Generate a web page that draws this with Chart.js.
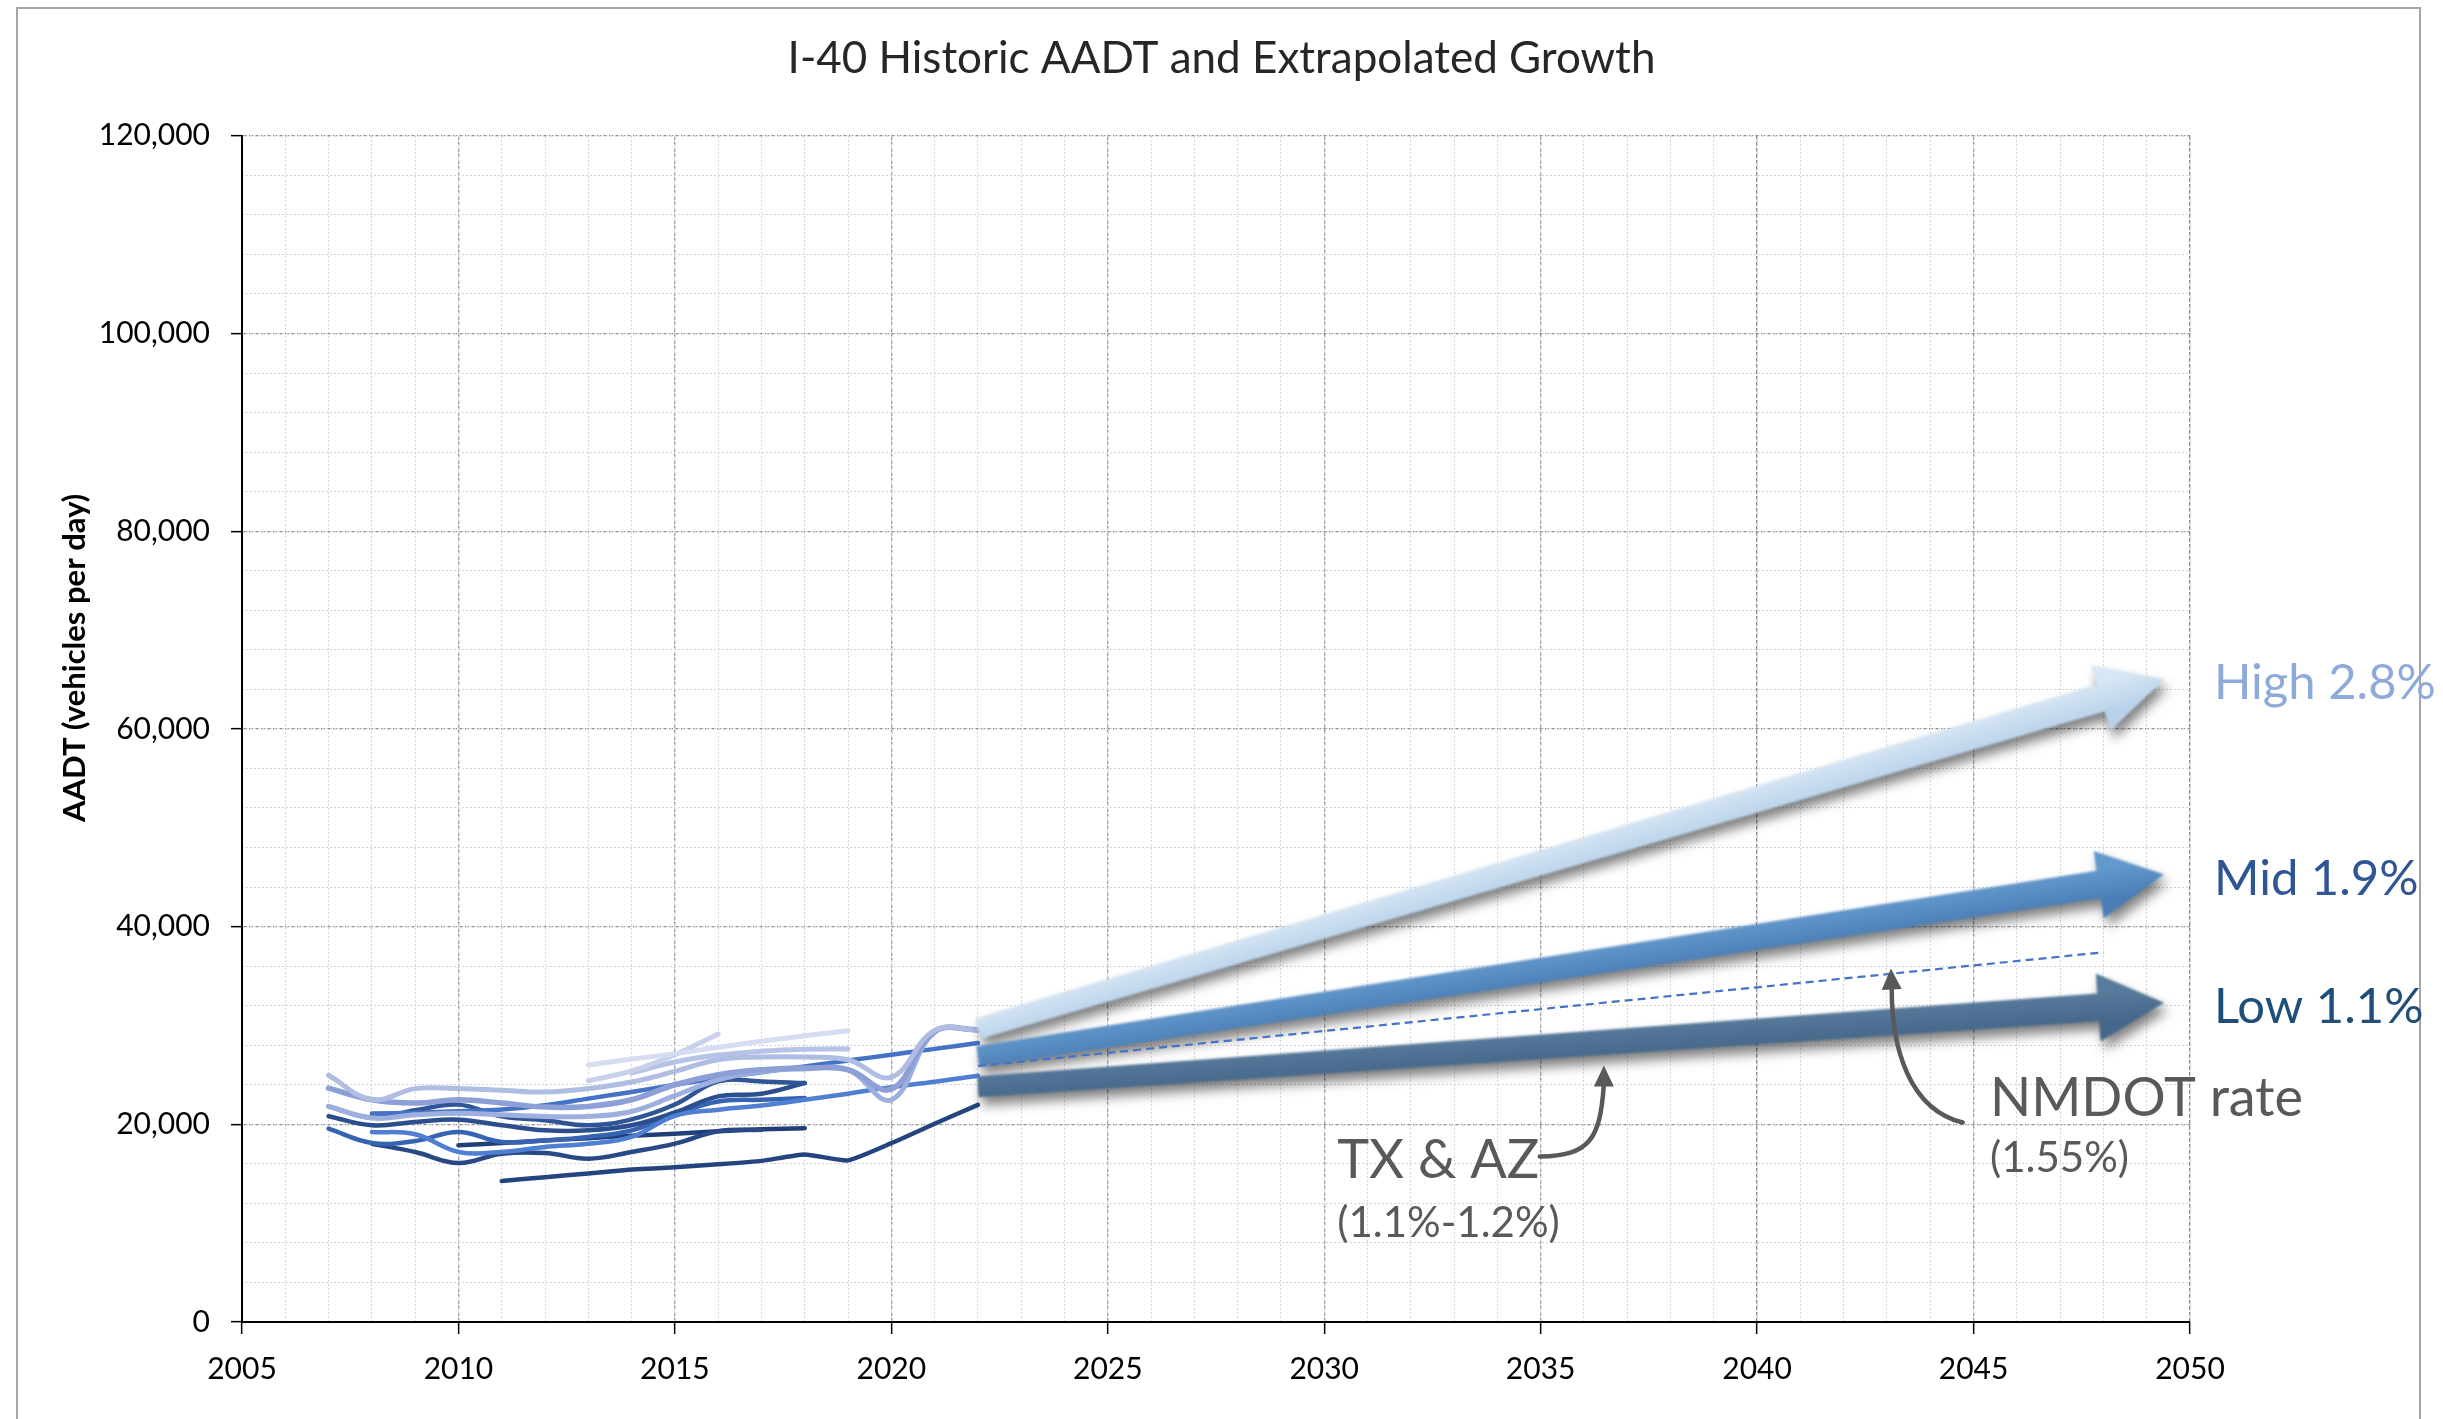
<!DOCTYPE html>
<html>
<head>
<meta charset="utf-8">
<script src="https://cdn.jsdelivr.net/npm/chart.js@4.4.1/dist/chart.umd.min.js"></script>
<style>
html,body{margin:0;padding:0;background:#fff;overflow:hidden}
canvas{display:block}
</style>
</head>
<body>
<canvas id="c" width="2443" height="1419"></canvas>
<script>
// ---------------- DATA ----------------
const chartTitle = 'I-40 Historic AADT and Extrapolated Growth';
const yAxisTitle = 'AADT (vehicles per day)';
const xTickLabels = [2005, 2010, 2015, 2020, 2025, 2030, 2035, 2040, 2045, 2050];
const yTickLabels = [0, 20000, 40000, 60000, 80000, 100000, 120000];

// historic count stations (AADT by year)
const years0722 = [2007,2008,2009,2010,2011,2012,2013,2014,2015,2016,2017,2018,2019,2020,2021,2022];
const years0822 = [2008,2009,2010,2011,2012,2013,2014,2015,2016,2017,2018,2019,2020,2021,2022];
const years0718 = [2007,2008,2009,2010,2011,2012,2013,2014,2015,2016,2017,2018];
const years0817 = [2008,2009,2010,2011,2012,2013,2014,2015,2016,2017];
const years1018 = [2010,2011,2012,2013,2014,2015,2016,2017,2018];
const years1122 = [2011,2012,2013,2014,2015,2016,2017,2018,2019,2020,2021,2022];
const years1319 = [2013,2014,2015,2016,2017,2018,2019];
const years1316 = [2013,2014,2015,2016];
const years1419 = [2014,2015,2016,2017,2018,2019];

const stnA = [24960,22500,23610,23610,23440,23270,23610,24280,25350,26530,26800,26800,26530,24780,29500,29570];
const stnB = [23660,22480,22150,22480,22150,21740,21810,22480,24000,25020,25520,25690,25520,23560,29400,29570];
const stnC = [21810,20630,20960,21130,20960,20800,20800,21300,22900,24500,25350,25600,25520,22480,29300,29570];
const stnD = [21080,21180,21320,21490,21920,22600,23270,24000,24680,25270,25860,26450,27040,27630,28220];
const stnE = [19220,18990,17200,17200,17700,18040,18720,20860,21470,21900,22480,23100,23760,24300,24910];
const stnF = [21820,20680,21420,21990,20810,20400,19900,20500,22000,24340,24340,24170];
const stnG = [20810,19900,20240,20470,19900,19390,19390,19900,21200,22820,23090,24170];
const stnH = [19560,18110,18300,19220,18210,18380,18720,19390,21000,22310,22480,22650];
const stnI = [18040,17200,16080,17030,17100,16520,17200,18040,19300,19440];
const stnJ = [17870,18100,18350,18600,18850,19050,19300,19500,19610];
const stnK = [14260,14650,15030,15420,15650,15950,16300,16950,16350,18090,20050,21970];
const stnL = [26000,26600,27150,27800,28400,28950,29470];
const stnM = [24400,25400,27040,29130];
const stnN = [25200,26300,27000,27400,27600,27620];

// NMDOT rate (1.55%) extrapolation
const nmdotYears = [2022, 2048];
const nmdotValues = [25900, 37400];

// growth scenario arrows
const growthLabels = ['High 2.8%', 'Mid 1.9%', 'Low 1.1%'];
const growthYears = [2022, 2049.4];
const growthStart = [29670, 26840, 23800];
const growthEnd = [65000, 45270, 32300];

// annotations (year, AADT)
const txText = ['TX & AZ', '(1.1%-1.2%)'];
const txTextPos = [[2030.3, 14610], [2030.3, 8600]];
const txArrowPath = [[2034.98, 16740], [2036.14, 16840], [2036.37, 18460], [2036.46, 24020]];
const txArrowTip = [2036.46, 25940];
const nmText = ['NMDOT rate', '(1.55%)'];
const nmTextPos = [[2045.38, 20890], [2045.38, 15130]];
const nmArrowPath = [[2044.75, 20180], [2043.53, 21490], [2043.11, 27560], [2043.11, 33630]];
const nmArrowTip = [2043.09, 35760];

// ---------------- BUILD ----------------
const pts = (xs, ys) => xs.map((x, i) => ({x: x, y: ys[i]}));
function station(xs, ys, color, width, tension) {
  return {
    data: pts(xs, ys), borderColor: color, borderWidth: width,
    pointRadius: 0, pointHoverRadius: 0, fill: false,
    tension: tension, borderCapStyle: 'round', borderJoinStyle: 'round'
  };
}

const datasets = [
  {data: pts(nmdotYears, nmdotValues), borderColor: '#4472c4', borderWidth: 2.2,
   borderDash: [8, 5], pointRadius: 0, fill: false, tension: 0},
  station(years0722, stnA, '#b0bde3', 5, 0.4),
  station(years0722, stnB, '#8c9fd6', 5.5, 0.4),
  station(years0722, stnC, '#9dafde', 5, 0.4),
  station(years1319, stnL, '#d6dcf1', 5, 0.4),
  station(years1316, stnM, '#c8d0ec', 5, 0.4),
  station(years1419, stnN, '#b6c2e6', 5, 0.4),
  station(years0822, stnD, '#4472c4', 4.5, 0.4),
  station(years0822, stnE, '#4f7fd3', 4.5, 0.4),
  station(years0718, stnF, '#2f5597', 4.5, 0.4),
  station(years0718, stnG, '#2b4e8f', 4.5, 0.4),
  station(years0718, stnH, '#3763b3', 4.5, 0.4),
  station(years0817, stnI, '#284886', 4.5, 0.4),
  station(years1018, stnJ, '#203f78', 4.5, 0.3),
  station(years1122, stnK, '#24447e', 4.5, 0.15)
];

const arrowTop = ['#d7e7f5', '#6499cd', '#587b9d'];
const arrowBottom = ['#b9d2ea', '#4a7eb6', '#44678a'];

function drawGrowthArrow(ctx, x0, y0, x1, y1, cTop, cBot) {
  const dx = x1 - x0, dy = y1 - y0, L = Math.hypot(dx, dy);
  const ux = dx / L, uy = dy / L, nx = -uy, ny = ux;
  const headLen = 66, headHalf = 34, wTail = 21, wHead = 28;
  const bx = x1 - ux * headLen, by = y1 - uy * headLen;
  const P = [
    [x0 - nx * wTail / 2, y0 - ny * wTail / 2],
    [bx - nx * wHead / 2, by - ny * wHead / 2],
    [bx - nx * headHalf, by - ny * headHalf],
    [x1, y1],
    [bx + nx * headHalf, by + ny * headHalf],
    [bx + nx * wHead / 2, by + ny * wHead / 2],
    [x0 + nx * wTail / 2, y0 + ny * wTail / 2]
  ];
  const mx = (x0 + x1) / 2, my = (y0 + y1) / 2;
  const g = ctx.createLinearGradient(mx - nx * 16, my - ny * 16, mx + nx * 16, my + ny * 16);
  g.addColorStop(0, cTop);
  g.addColorStop(1, cBot);
  ctx.save();
  ctx.beginPath();
  ctx.moveTo(P[0][0], P[0][1]);
  for (let i = 1; i < P.length; i++) ctx.lineTo(P[i][0], P[i][1]);
  ctx.closePath();
  ctx.shadowColor = 'rgba(0,0,0,0.5)';
  ctx.shadowBlur = 12;
  ctx.shadowOffsetX = 4;
  ctx.shadowOffsetY = 8;
  ctx.filter = 'blur(1px)';
  ctx.fillStyle = g;
  ctx.fill();
  ctx.restore();
}

function curvedArrow(chart, path, tip) {
  const {ctx, scales: {x, y}} = chart;
  const p = path.map(q => [x.getPixelForValue(q[0]), y.getPixelForValue(q[1])]);
  const t = [x.getPixelForValue(tip[0]), y.getPixelForValue(tip[1])];
  ctx.save();
  ctx.strokeStyle = '#595959';
  ctx.fillStyle = '#595959';
  ctx.lineWidth = 4.5;
  ctx.lineCap = 'round';
  ctx.beginPath();
  ctx.moveTo(p[0][0], p[0][1]);
  ctx.bezierCurveTo(p[1][0], p[1][1], p[2][0], p[2][1], p[3][0], p[3][1]);
  ctx.stroke();
  const dx = t[0] - p[3][0], dy = t[1] - p[3][1], L = Math.hypot(dx, dy);
  const ux = dx / L, uy = dy / L, nx = -uy, ny = ux;
  const bx = t[0] - ux * 21, by = t[1] - uy * 21;
  ctx.beginPath();
  ctx.moveTo(t[0], t[1]);
  ctx.lineTo(bx + nx * 10, by + ny * 10);
  ctx.lineTo(bx - nx * 10, by - ny * 10);
  ctx.closePath();
  ctx.fill();
  ctx.restore();
}

const overlay = {
  id: 'overlay',
  beforeDraw(chart) {
    const {ctx, width, height} = chart;
    ctx.save();
    ctx.fillStyle = '#fff';
    ctx.fillRect(0, 0, width, height);
    ctx.strokeStyle = '#a6a6a6';
    ctx.lineWidth = 2;
    ctx.strokeRect(17, 8, 2403, 1440);
    ctx.restore();
  },
  beforeDatasetDraw(chart, args) {
    if (args.index !== 0) return;
    const {ctx, scales: {x, y}} = chart;
    for (let i = 0; i < growthLabels.length; i++) {
      drawGrowthArrow(ctx,
        x.getPixelForValue(growthYears[0]), y.getPixelForValue(growthStart[i]),
        x.getPixelForValue(growthYears[1]), y.getPixelForValue(growthEnd[i]),
        arrowTop[i], arrowBottom[i]);
    }
  },
  afterDraw(chart) {
    const {ctx, chartArea, scales: {x, y}} = chart;
    // y axis title
    ctx.save();
    ctx.translate(75, chartArea.top + 522);
    ctx.rotate(-Math.PI / 2);
    ctx.font = 'bold 31px Lato';
    ctx.fillStyle = '#000';
    ctx.textAlign = 'center';
    ctx.textBaseline = 'middle';
    ctx.fillText(yAxisTitle, 0, 0);
    ctx.restore();

    // growth labels
    const gColors = ['#8eaadb', '#2f5597', '#1f4e79'];
    ctx.save();
    ctx.font = '49px Lato';
    ctx.textAlign = 'left';
    ctx.textBaseline = 'alphabetic';
    for (let i = 0; i < growthLabels.length; i++) {
      ctx.fillStyle = gColors[i];
      ctx.fillText(growthLabels[i], chartArea.right + 24, y.getPixelForValue(growthEnd[i]) + 20);
    }
    ctx.restore();

    // annotations
    ctx.save();
    ctx.fillStyle = '#595959';
    ctx.textAlign = 'left';
    ctx.textBaseline = 'alphabetic';
    ctx.font = '54px Lato';
    ctx.fillText(txText[0], x.getPixelForValue(txTextPos[0][0]), y.getPixelForValue(txTextPos[0][1]));
    ctx.fillText(nmText[0], x.getPixelForValue(nmTextPos[0][0]), y.getPixelForValue(nmTextPos[0][1]));
    ctx.font = '42px Lato';
    ctx.fillText(txText[1], x.getPixelForValue(txTextPos[1][0]), y.getPixelForValue(txTextPos[1][1]));
    ctx.fillText(nmText[1], x.getPixelForValue(nmTextPos[1][0]), y.getPixelForValue(nmTextPos[1][1]));
    ctx.restore();

    curvedArrow(chart, txArrowPath, txArrowTip);
    curvedArrow(chart, nmArrowPath, nmArrowTip);
  }
};

function build() {
  new Chart(document.getElementById('c'), {
    type: 'line',
    data: {datasets: datasets},
    plugins: [overlay],
    options: {
      responsive: false,
      animation: false,
      devicePixelRatio: 1,
      layout: {padding: 0},
      plugins: {
        legend: {display: false},
        tooltip: {enabled: false},
        title: {
          display: true, text: chartTitle, color: '#262626',
          font: {family: 'Lato', size: 44, weight: 'normal'},
          padding: {top: 32, bottom: 51}
        }
      },
      scales: {
        x: {
          type: 'linear', position: 'bottom',
          min: xTickLabels[0], max: xTickLabels[xTickLabels.length - 1],
          afterBuildTicks: s => { s.ticks = xTickLabels.map(v => ({value: v})); },
          afterFit: s => { s.height = 97; },
          ticks: {
            callback: v => String(v), color: '#000', padding: 17,
            font: {family: 'Lato', size: 30}, maxRotation: 0, autoSkip: false
          },
          grid: {color: '#8c8c8c', lineWidth: 1.3, tickColor: '#000', tickLength: 12, tickWidth: 1.5},
          border: {display: true, color: '#000', width: 2, dash: [4, 2]}
        },
        x2: {
          type: 'linear', position: 'bottom', min: 2005, max: 2050, z: -1,
          ticks: {display: false, stepSize: 1},
          afterFit: s => { s.height = 0; },
          grid: {color: '#d4d4d4', lineWidth: 1, drawTicks: false},
          border: {display: false, dash: [2, 2]}
        },
        y: {
          type: 'linear', position: 'left',
          min: 0, max: 120000,
          afterBuildTicks: s => { s.ticks = yTickLabels.map(v => ({value: v})); },
          afterFit: s => { s.width = 242; },
          ticks: {
            callback: v => v.toLocaleString('en-US'), color: '#000', padding: 21,
            font: {family: 'Lato', size: 30}
          },
          grid: {color: '#8c8c8c', lineWidth: 1.3, tickColor: '#000', tickLength: 11, tickWidth: 1.5},
          border: {display: true, color: '#000', width: 2, dash: [4, 2]}
        },
        y2: {
          type: 'linear', position: 'right', min: 0, max: 120000, z: -1,
          ticks: {display: false, stepSize: 4000},
          afterFit: s => { s.width = 253; },
          grid: {color: '#d4d4d4', lineWidth: 1, drawTicks: false},
          border: {display: false, dash: [2, 2]}
        }
      }
    }
  });
}

Promise.all([
  document.fonts.load('44px Lato'),
  document.fonts.load('bold 31px Lato')
]).then(build, build);
</script>
</body>
</html>
